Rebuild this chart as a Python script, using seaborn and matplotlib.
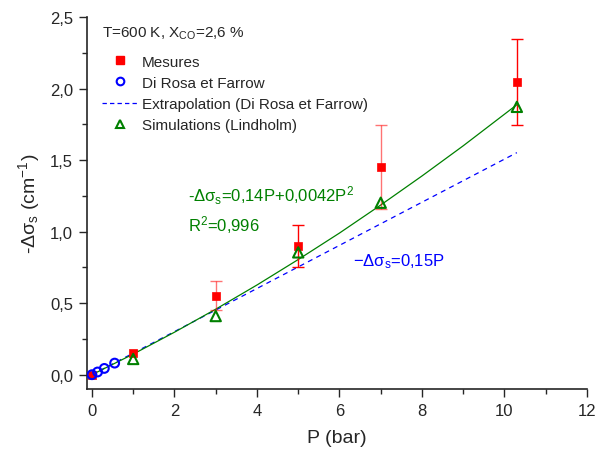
import numpy as np
import pandas as pd
import matplotlib
matplotlib.use('Agg')
import matplotlib.pyplot as plt
import seaborn as sns
from matplotlib.ticker import MultipleLocator, FuncFormatter
from matplotlib.lines import Line2D

# Mesures
p_mes = [0, 1, 3, 5, 7, 10.3]
ds_mes = [0.0, 0.153, 0.553, 0.90, 1.452, 2.046]
err_mes = [0.0, 0.0, 0.10, 0.146, 0.296, 0.298]

# Di Rosa et Farrow
p_drf = [0, 0.136, 0.30, 0.55]
ds_drf = [0.0, 0.019, 0.044, 0.081]

# Extrapolation (Di Rosa et Farrow)
p_ext = [0, 10.3]
ds_ext = [0.0, 1.552]

# Simulations (Lindholm)
p_sim = [1, 3, 5, 7, 10.3]
ds_sim = [0.11, 0.41, 0.855, 1.202, 1.872]

# fit curve
p_fit = [0, 1, 2, 3, 4, 5, 6, 7, 8, 9, 10.3]
ds_fit = [0.0, 0.144, 0.297, 0.458, 0.627, 0.805, 0.99, 1.186, 1.389, 1.600, 1.887]

sns.set_style('ticks')
plt.rcParams['font.family'] = ['Liberation Sans', 'DejaVu Sans']
plt.rcParams['mathtext.fontset'] = 'custom'
plt.rcParams['mathtext.rm'] = 'Liberation Sans'
plt.rcParams['mathtext.it'] = 'Liberation Sans'

fig = plt.figure(figsize=(5.98, 4.56), dpi=100)
ax = fig.add_axes([0.1455, 0.1447, 0.8361, 0.8158])

red = '#ff0000'
blue = '#0000ff'
green = '#008000'

sns.lineplot(x=p_ext, y=ds_ext, ax=ax, color=blue, lw=0.9)
ax.lines[-1].set_dashes((4, 3.5))
sns.lineplot(x=p_fit, y=ds_fit, ax=ax, color=green, lw=0.9)

# some error bars look lighter in the original
err_alpha = [1, 1, 0.55, 1, 0.55, 1]
for p, d, e, a in zip(p_mes, ds_mes, err_mes, err_alpha):
    if e > 0:
        ax.errorbar(p, d, yerr=e, fmt='none', ecolor=red, elinewidth=1, alpha=a,
                    capsize=4.5, capthick=1, zorder=3)
sns.scatterplot(x=p_mes, y=ds_mes, ax=ax, marker='s', color=red, edgecolor=red,
                linewidth=0.5, s=36, zorder=4)
sns.scatterplot(x=p_drf, y=ds_drf, ax=ax, marker='o', facecolor='none', edgecolor=blue,
                linewidth=1.5, s=40, zorder=5)
sns.scatterplot(x=p_sim, y=ds_sim, ax=ax, marker='^', facecolor='none', edgecolor=green,
                linewidth=1.5, s=55, zorder=5)

ax.set_xlim(-0.12, 12)
ax.set_ylim(-0.1, 2.5)
ax.xaxis.set_major_locator(MultipleLocator(2))
ax.xaxis.set_minor_locator(MultipleLocator(1))
ax.yaxis.set_major_locator(MultipleLocator(0.5))
ax.yaxis.set_minor_locator(MultipleLocator(0.25))
ax.xaxis.set_major_formatter(FuncFormatter(lambda v, _: f'{v:.0f}'))
ax.yaxis.set_major_formatter(FuncFormatter(lambda v, _: f'{v:.1f}'.replace('.', ',')))
ax.tick_params(which='major', length=6, width=1, labelsize=12, direction='out', pad=4)
ax.tick_params(which='minor', length=3.5, width=1, direction='out')
for s in ['top', 'right']:
    ax.spines[s].set_visible(False)
for s in ['left', 'bottom']:
    ax.spines[s].set_linewidth(1.2)

ax.set_xlabel('P (bar)', fontsize=14, labelpad=8)
ax.set_ylabel(r'-$\Delta\sigma_{\mathrm{s}}$ (cm$^{\mathrm{-1}}$)', fontsize=14, labelpad=6)

handles = [
    Line2D([], [], marker='s', color=red, ls='none', markersize=6),
    Line2D([], [], marker='o', markerfacecolor='none', markeredgecolor=blue, ls='none',
           markersize=5.5, markeredgewidth=1.5),
    Line2D([], [], color=blue, ls=(0, (3.5, 2.5)), lw=0.9),
    Line2D([], [], marker='^', markerfacecolor='none', markeredgecolor=green, ls='none',
           markersize=6, markeredgewidth=1.5),
]
labels = ['Mesures', 'Di Rosa et Farrow', 'Extrapolation (Di Rosa et Farrow)',
          'Simulations (Lindholm)']
leg = ax.legend(handles, labels, loc='upper left', bbox_to_anchor=(0.018, 0.995),
                frameon=False, fontsize=11, handlelength=2.3, handletextpad=0.3,
                labelspacing=0.47, borderaxespad=0,
                title=r'T=600 K, X$_{\mathrm{CO}}$=2,6 %', title_fontsize=11)
leg._legend_box.align = 'left'
leg._legend_box.sep = 9.5

ax.text(2.34, 1.26, r'-$\Delta\sigma_{\mathrm{s}}$=0,14P+0,0042P$^{\mathrm{2}}$',
        color=green, fontsize=12, va='center')
ax.text(2.34, 1.05, r'R$^{\mathrm{2}}$=0,996', color=green, fontsize=12, va='center')
ax.text(6.33, 0.795, r'$-\Delta\sigma_{\mathrm{s}}$=0,15P', color=blue, fontsize=12, va='center')

fig.savefig('out.png', dpi=100)
